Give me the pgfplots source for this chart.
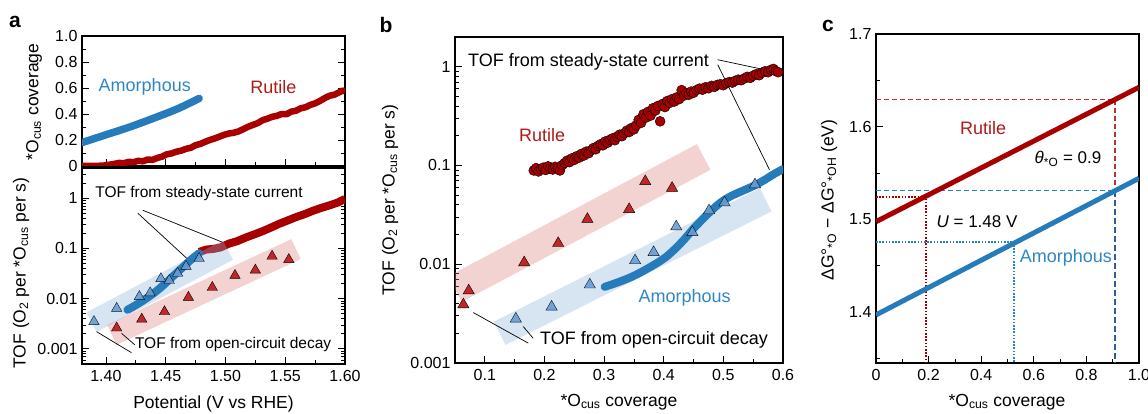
\documentclass[border=0pt]{standalone}
\usepackage{fontspec}
\setmainfont{Liberation Sans}
\usepackage{pgfplots}
\pgfplotsset{compat=1.18}

\definecolor{rutred}{RGB}{168,0,0}
\definecolor{rutlab}{RGB}{178,24,24}
\definecolor{rtri}{RGB}{192,40,40}
\definecolor{amblue}{RGB}{38,124,186}
\definecolor{amlab}{RGB}{46,134,198}
\definecolor{btri}{RGB}{104,156,212}
\definecolor{bband}{RGB}{141,178,218}
\definecolor{rband}{RGB}{221,126,126}
\definecolor{dashred}{RGB}{190,50,50}
\definecolor{dashblue}{RGB}{36,132,200}
\definecolor{dkblue}{RGB}{52,92,150}

\newcommand{\fs}[1]{\fontsize{#1pt}{#1pt}\selectfont}

\pgfplotsset{
  panel/.style={
    scale only axis, anchor=south west,
    axis line style={line width=1.1pt},
    every tick/.style={black, line width=0.8pt},
    major tick length=7pt, minor tick length=4pt,
    tick align=inside,
    tick label style={font=\fs{16}},
    /pgf/number format/assume math mode=true,
    xtick pos=left, ytick pos=left,
    xticklabel style={yshift=-3pt},
    yticklabel style={xshift=-1pt},
  },
  band/.style={line width=#1, opacity=0.35, line cap=butt},
}

\begin{document}
\begin{tikzpicture}
\path[use as bounding box] (0pt,0pt) rectangle (1148pt,414pt);

% ---------------- panel a, coverage ----------------
\begin{axis}[panel, at={(82pt,248pt)}, width=263pt, height=130pt,
  xmin=1.38, xmax=1.60, ymin=0, ymax=1.0,
  xtick={1.40,1.45,1.50,1.55,1.60}, minor x tick num=1, xticklabels={},
  ytick={0,0.2,0.4,0.6,0.8,1.0}, yticklabels={0,0.2,0.4,0.6,0.8,1.0},
  minor y tick num=1, ytick pos=both]
\addplot[rutred, line width=6.5pt, line join=round] coordinates {
(1.380,0.000) (1.386,0.000) (1.392,0.001) (1.398,0.003) (1.403,0.010)
(1.407,0.016) (1.411,0.024) (1.415,0.021) (1.419,0.032) (1.423,0.029)
(1.427,0.040) (1.431,0.036) (1.435,0.050) (1.439,0.047) (1.443,0.062)
(1.447,0.072) (1.451,0.090) (1.455,0.097) (1.459,0.110) (1.463,0.118)
(1.467,0.132) (1.471,0.140) (1.475,0.160) (1.479,0.170) (1.483,0.186)
(1.487,0.200) (1.491,0.212) (1.495,0.226) (1.499,0.240) (1.503,0.250)
(1.507,0.256) (1.511,0.266) (1.515,0.284) (1.519,0.302) (1.523,0.316)
(1.527,0.330) (1.531,0.352) (1.535,0.364) (1.539,0.378) (1.543,0.386)
(1.547,0.400) (1.551,0.398) (1.555,0.418) (1.559,0.425) (1.563,0.444)
(1.567,0.452) (1.571,0.470) (1.575,0.482) (1.579,0.500) (1.583,0.522)
(1.587,0.540) (1.591,0.548) (1.595,0.566) (1.598,0.580) (1.600,0.575)};
\addplot[amblue, line width=7.5pt, line cap=round, smooth] coordinates {
(1.380,0.180) (1.400,0.240) (1.420,0.300) (1.440,0.368) (1.460,0.440) (1.478,0.520)};
\node[amlab, font=\fs{18}] at (axis cs:1.4325,0.61) {Amorphous};
\node[rutlab, font=\fs{18}] at (axis cs:1.540,0.61) {Rutile};
\end{axis}

% ---------------- panel a, TOF ----------------
\begin{axis}[panel, at={(82pt,50pt)}, width=263pt, height=196pt,
  xmin=1.38, xmax=1.60, ymode=log, ymin=5e-4, ymax=4,
  xtick={1.40,1.45,1.50,1.55,1.60}, xticklabels={1.40,1.45,1.50,1.55,1.60},
  minor x tick num=1,
  ytick={0.001,0.01,0.1,1}, yticklabels={0.001,0.01,0.1,1},
  minor ytick={0.0006,0.0007,0.0008,0.0009,0.002,0.003,0.004,0.005,0.006,0.007,0.008,0.009,
    0.02,0.03,0.04,0.05,0.06,0.07,0.08,0.09,0.2,0.3,0.4,0.5,0.6,0.7,0.8,0.9,2,3,4},
  ytick pos=both]
\addplot[rutred, line width=8pt, line join=round] coordinates {
(1.478,0.085) (1.484,0.095) (1.490,0.098) (1.496,0.105) (1.503,0.125)
(1.510,0.140) (1.517,0.165) (1.524,0.190) (1.531,0.220) (1.538,0.260)
(1.545,0.310) (1.552,0.360) (1.559,0.420) (1.566,0.480) (1.573,0.560)
(1.580,0.640) (1.587,0.720) (1.594,0.820) (1.600,0.970)};
\addplot[bband, band=22pt] coordinates {(1.388,0.0034) (1.502,0.093)};
\addplot[rband, band=22pt] coordinates {(1.405,0.0019) (1.559,0.097)};
\addplot[amblue, line width=8pt, line cap=round, smooth] coordinates {
(1.418,0.0060) (1.424,0.0072) (1.430,0.0088) (1.436,0.0110) (1.442,0.0140)
(1.448,0.0185) (1.454,0.0250) (1.460,0.0340) (1.466,0.0460) (1.472,0.0620) (1.478,0.0800)};
\addplot[only marks, mark=triangle*, mark size=6pt, mark options={fill=btri, draw=none, opacity=0.9}] coordinates {
(1.390,0.0035) (1.409,0.0064) (1.428,0.011) (1.437,0.013) (1.446,0.025)
(1.453,0.023) (1.460,0.032) (1.467,0.044) (1.478,0.063)};
\addplot[only marks, mark=triangle*, mark size=6pt, mark options={fill=rtri, draw=none}] coordinates {
(1.409,0.0026) (1.430,0.0039) (1.449,0.0055) (1.469,0.0106) (1.489,0.0167)
(1.508,0.029) (1.525,0.037) (1.539,0.070) (1.553,0.060)};
\draw[line width=0.7pt] (axis cs:1.4308,0.577) -- (axis cs:1.4975,0.133);
\draw[line width=0.7pt] (axis cs:1.4267,0.503) -- (axis cs:1.4675,0.064);
\draw[line width=0.7pt] (axis cs:1.3922,0.0022) -- (axis cs:1.4214,0.00084);
\draw[line width=0.7pt] (axis cs:1.4131,0.00204) -- (axis cs:1.4242,0.0012);
\node[anchor=west, font=\fs{15.5}, inner sep=0pt] at (axis cs:1.391,1.26) {TOF from steady-state current};
\node[anchor=west, font=\fs{15.5}, inner sep=0pt] at (axis cs:1.4242,0.0012) {TOF from open-circuit decay};
\end{axis}

% ---------------- panel b ----------------
\begin{axis}[panel, at={(455pt,51pt)}, width=328pt, height=326pt,
  xmin=0.05, xmax=0.6, ymode=log, ymin=0.001, ymax=2,
  xtick={0.1,0.2,0.3,0.4,0.5,0.6}, xticklabels={0.1,0.2,0.3,0.4,0.5,0.6},
  minor x tick num=1,
  ytick={0.001,0.01,0.1,1}, yticklabels={0.001,0.01,0.1,1},
  minor ytick={0.002,0.003,0.004,0.005,0.006,0.007,0.008,0.009,
    0.02,0.03,0.04,0.05,0.06,0.07,0.08,0.09,0.2,0.3,0.4,0.5,0.6,0.7,0.8,0.9,2}]
\addplot[rband, band=29pt] coordinates {(0.05,0.0056) (0.467,0.122)};
\addplot[bband, band=26pt] coordinates {(0.125,0.0020) (0.571,0.045)};
\addplot[only marks, mark=*, mark size=5pt, mark options={fill=rutred, draw=none}] coordinates {
(0.182,0.089) (0.186,0.094) (0.190,0.087) (0.194,0.092) (0.198,0.095) (0.202,0.090)
(0.206,0.098) (0.210,0.093) (0.214,0.091) (0.218,0.097) (0.222,0.094) (0.226,0.089)
(0.230,0.101) (0.234,0.106) (0.238,0.112) (0.242,0.108) (0.246,0.118) (0.250,0.114)
(0.254,0.124) (0.258,0.120) (0.262,0.131) (0.266,0.126) (0.270,0.138) (0.274,0.133)
(0.278,0.142) (0.282,0.150) (0.286,0.146) (0.290,0.158) (0.294,0.164) (0.298,0.160)
(0.302,0.175) (0.306,0.170) (0.310,0.182) (0.314,0.188) (0.318,0.180) (0.322,0.196)
(0.326,0.205) (0.330,0.198) (0.334,0.212) (0.338,0.225) (0.342,0.218) (0.346,0.240)
(0.350,0.232) (0.354,0.255) (0.358,0.290) (0.362,0.270) (0.366,0.330) (0.370,0.305)
(0.374,0.350) (0.378,0.320) (0.382,0.380) (0.386,0.360) (0.390,0.400) (0.394,0.280)
(0.398,0.420) (0.402,0.390) (0.406,0.450) (0.410,0.430) (0.414,0.470) (0.418,0.445)
(0.422,0.490) (0.426,0.470) (0.430,0.580) (0.434,0.510) (0.438,0.540) (0.442,0.520)
(0.446,0.560) (0.450,0.545) (0.455,0.580) (0.460,0.600) (0.465,0.585) (0.470,0.620)
(0.475,0.605) (0.480,0.640) (0.485,0.625) (0.490,0.655) (0.495,0.665) (0.500,0.650)
(0.505,0.680) (0.510,0.700) (0.515,0.690) (0.520,0.720) (0.525,0.740) (0.530,0.730)
(0.535,0.760) (0.540,0.790) (0.545,0.770) (0.550,0.810) (0.555,0.840) (0.560,0.820)
(0.565,0.870) (0.570,0.900) (0.575,0.880) (0.580,0.930) (0.584,0.950) (0.588,0.900)
(0.592,0.880)};
\addplot[amblue, line width=8pt, line cap=round, smooth] coordinates {
(0.301,0.0059) (0.315,0.0063) (0.330,0.0068) (0.345,0.0074) (0.360,0.0082)
(0.375,0.0092) (0.390,0.0104) (0.405,0.0120) (0.420,0.0145) (0.435,0.0180)
(0.450,0.0230) (0.465,0.0285) (0.480,0.0350) (0.495,0.0420) (0.510,0.0480)
(0.525,0.0530) (0.540,0.0580) (0.555,0.0640) (0.570,0.0720) (0.585,0.0820) (0.600,0.0920)};
\addplot[only marks, mark=triangle*, mark size=6.5pt, mark options={fill=btri, draw=none, opacity=0.9}] coordinates {
(0.152,0.0028) (0.212,0.0037) (0.276,0.0062) (0.352,0.0109) (0.383,0.0132)
(0.421,0.024) (0.448,0.021) (0.476,0.035) (0.502,0.042) (0.553,0.064)};
\addplot[only marks, mark=triangle*, mark size=6.5pt, mark options={fill=rtri, draw=none}] coordinates {
(0.064,0.0039) (0.073,0.0054) (0.166,0.0104) (0.223,0.0163) (0.272,0.0286)
(0.342,0.036) (0.369,0.069) (0.414,0.059)};
\draw[line width=0.7pt] (axis cs:0.4905,1.177) -- (axis cs:0.5693,0.932);
\draw[line width=0.7pt] (axis cs:0.4906,1.047) -- (axis cs:0.5774,0.0903);
\draw[line width=0.7pt] (axis cs:0.0807,0.00324) -- (axis cs:0.1728,0.00159);
\draw[line width=0.7pt] (axis cs:0.1644,0.00234) -- (axis cs:0.1811,0.00178);
\node[anchor=west, font=\fs{18}, inner sep=0pt] at (axis cs:0.0718,1.12) {TOF from steady-state current};
\node[anchor=west, font=\fs{18}, inner sep=0pt] at (axis cs:0.1924,0.00171) {TOF from open-circuit decay};
\node[rutlab, font=\fs{18}] at (axis cs:0.196,0.204) {Rutile};
\node[amlab, font=\fs{18}] at (axis cs:0.435,0.0046) {Amorphous};
\end{axis}

% ---------------- panel c ----------------
\begin{axis}[panel, at={(876pt,51pt)}, width=263pt, height=329pt,
  xmin=0, xmax=1.0, ymin=1.345, ymax=1.7,
  xtick={0,0.2,0.4,0.6,0.8,1.0}, xticklabels={0,0.2,0.4,0.6,0.8,1.0},
  minor x tick num=1,
  ytick={1.4,1.5,1.6,1.7}, yticklabels={1.4,1.5,1.6,1.7},
  minor ytick={1.35,1.45,1.55,1.65}]
\addplot[dashred, line width=1.2pt, dash pattern=on 5pt off 3pt] coordinates {(0,1.6296) (0.909,1.6296) (0.909,1.531)};
\addplot[dashblue, line width=1.2pt, dash pattern=on 5pt off 3pt] coordinates {(0,1.531) (0.909,1.531)};
\addplot[dkblue, line width=1.4pt, dash pattern=on 6pt off 3pt] coordinates {(0.909,1.531) (0.909,1.345)};
\addplot[rutred, line width=2pt, dash pattern=on 1.6pt off 1.6pt] coordinates {(0,1.5238) (0.190,1.5238) (0.190,1.345)};
\addplot[dashblue, line width=2pt, dash pattern=on 1.6pt off 1.6pt] coordinates {(0,1.4753) (0.525,1.4753) (0.525,1.345)};
\addplot[rutred, line width=5pt] coordinates {(0,1.4975) (1,1.6425)};
\addplot[amblue, line width=5pt] coordinates {(0,1.3969) (1,1.5443)};
\node[rutlab, font=\fs{18}] at (axis cs:0.407,1.599) {Rutile};
\node[font=\fs{17}] at (axis cs:0.73,1.565) {\textit{θ}\textsubscript{*O} = 0.9};
\node[font=\fs{17}] at (axis cs:0.384,1.498) {\textit{U} = 1.48 V};
\node[amlab, font=\fs{18}] at (axis cs:0.722,1.458) {Amorphous};
\end{axis}

% axis titles and panel letters
\node[rotate=90, font=\fs{17.5}] at (34pt,312pt) {*O\textsubscript{cus} coverage};
\node[rotate=90, font=\fs{17.5}] at (21pt,141pt) {TOF (O\textsubscript{2} per *O\textsubscript{cus} per s)};
\node[font=\fs{17.5}] at (213.5pt,10pt) {Potential (V vs RHE)};
\node[rotate=90, font=\fs{17.5}] at (390pt,214pt) {TOF (O\textsubscript{2} per *O\textsubscript{cus} per s)};
\node[font=\fs{17.5}] at (619pt,12pt) {*O\textsubscript{cus} coverage};
\node[rotate=90, font=\fs{17.5}] at (829pt,214pt) {ΔG°\textsubscript{*O} − ΔG°\textsubscript{*OH} (eV)};
\node[font=\fs{17.5}] at (1007pt,12pt) {*O\textsubscript{cus} coverage};
\node[font=\bfseries\fs{21}] at (15pt,392pt) {a};
\node[font=\bfseries\fs{21}] at (386pt,389pt) {b};
\node[font=\bfseries\fs{21}] at (828pt,388pt) {c};
\end{tikzpicture}
\end{document}
